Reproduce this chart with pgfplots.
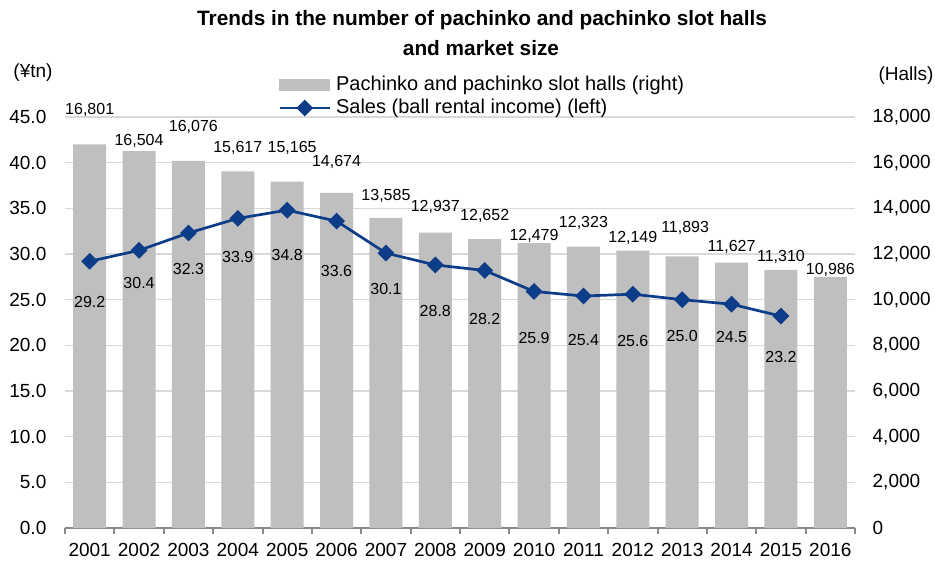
\documentclass[border=0pt]{standalone}
\usepackage{fontspec}
\setmainfont{Liberation Sans}
\usepackage{pgfplots}
\pgfplotsset{compat=1.18}
\usepackage{pgfplotstable}
\definecolor{barcol}{HTML}{BFBFBF}
\definecolor{linecol}{HTML}{0D3D88}
\definecolor{gridcol}{HTML}{D9D9D9}
\definecolor{axiscol}{HTML}{898989}
\pgfplotsset{
  linelegend/.style={legend image code/.code={\draw[mark repeat=2,mark phase=2,##1] plot coordinates {(0pt,0pt)(12.5pt,0pt)(25pt,0pt)};}},
  barlegend/.style={legend image code/.code={\fill[barcol] (0pt,-2.75pt) rectangle (25pt,2.75pt);}},
}

\pgfplotstableread{
x halls
1 16801
2 16504
3 16076
4 15617
5 15165
6 14674
7 13585
8 12937
9 12652
10 12479
11 12323
12 12149
13 11893
14 11627
15 11310
16 10986
}\halls

\pgfplotstableread{
x sales
1 29.2
2 30.4
3 32.3
4 33.9
5 34.8
6 33.6
7 30.1
8 28.8
9 28.2
10 25.9
11 25.4
12 25.6
13 25.0
14 24.5
15 23.2
}\sales

\pgfplotstableread{
x y lab
1 18306 16,801
2 16949 16,504
3.1 17562 16,076
4 16642 15,617
5.1 16642 15,165
6 16029 14,674
7 14540 13,585
8 14058 12,937
9 13664 12,652
10 12788 12,479
11 13358 12,323
12 12701 12,149
13.06 13139 11,893
14 12307 11,627
15 11869 11,310
16 11299 10,986
}\hallslab

\pgfplotstableread{
x y lab
1 24.74 29.2
2 26.82 30.4
3 28.36 32.3
4 29.67 33.9
5 29.89 34.8
6 28.14 33.6
7 26.17 30.1
8 23.76 28.8
9 22.88 28.2
10 20.80 25.9
11 20.58 25.4
12 20.47 25.6
13 21.02 25.0
14 20.91 24.5
15 18.72 23.2
}\saleslab

\begin{document}
\begin{tikzpicture}
\useasboundingbox (-32.5pt,-17.5pt) rectangle (435pt,264pt);
\begin{axis}[
  scale only axis, width=395pt, height=205.5pt,
  xmin=0.5, xmax=16.5, ymin=0, ymax=18000,
  axis x line*=bottom, axis y line*=right,
  y axis line style={draw=none},
  x axis line style={draw=axiscol, line width=1pt},
  xtick={0.5,1.5,...,16.5},
  x tick label as interval,
  xticklabels={2001,2002,2003,2004,2005,2006,2007,2008,2009,2010,2011,2012,2013,2014,2015,2016},
  major x tick style={draw=axiscol, line width=1pt},
  major tick length=3pt,
  tick align=outside,
  ytick={0,2000,...,18000},
  ymajorgrids, grid style={draw=gridcol, line width=0.7pt},
  major y tick style={draw=none},
  scaled y ticks=false,
  /pgf/number format/1000 sep={,},
  /pgf/number format/assume math mode=true,
  yticklabel style={xshift=2.3pt},
  xticklabel style={yshift=-1.3pt},
  tick label style={font=\fontsize{9.5}{11}\selectfont},
  clip=false,
]
\addplot[ybar, bar width=16.5pt, bar shift=0pt, fill=barcol, draw=none] table[x=x,y=halls]{\halls};
\addplot[draw=none, mark=none, nodes near coords, point meta=explicit symbolic,
  nodes near coords style={anchor=center, font=\fontsize{8}{9}\selectfont, inner sep=0pt, text=black}]
  table[x=x,y=y,meta=lab]{\hallslab};
\end{axis}
\begin{axis}[
  scale only axis, width=395pt, height=205.5pt,
  xmin=0.5, xmax=16.5, ymin=0, ymax=45,
  axis x line=none, axis y line*=left,
  y axis line style={draw=none},
  major y tick style={draw=none},
  ytick={0,5,...,45},
  /pgf/number format/fixed,
  /pgf/number format/fixed zerofill,
  /pgf/number format/precision=1,
  /pgf/number format/assume math mode=true,
  yticklabel style={xshift=-5.8pt},
  tick label style={font=\fontsize{9.5}{11}\selectfont},
  legend cell align=left,
  legend style={at={(0.2696,1.0499)}, anchor=west, draw=none, fill=none, inner sep=0pt,
    font=\fontsize{10}{12}\selectfont, row sep=0pt,
    nodes={inner sep=0.5pt, text height=8pt, text depth=2.5pt},
    /tikz/every odd column/.append style={column sep=2pt}},
  clip=false,
]
\addlegendimage{barlegend}
\addlegendentry{Pachinko and pachinko slot halls (right)}
\addplot[linecol, line width=1.35pt, mark=square*, mark size=2.3pt,
  mark options={rotate=45, fill=linecol, draw=linecol}, linelegend]
  table[x=x,y=sales]{\sales};
\addlegendentry{Sales (ball rental income) (left)}
\addplot[forget plot, draw=none, mark=none, nodes near coords, point meta=explicit symbolic,
  nodes near coords style={anchor=center, font=\fontsize{8}{9}\selectfont, inner sep=0pt, text=black}]
  table[x=x,y=y,meta=lab]{\saleslab};
\end{axis}
\node[font=\bfseries\fontsize{10.4}{12}\selectfont] at (208.5pt,254pt) {Trends in the number of pachinko and pachinko slot halls};
\node[font=\bfseries\fontsize{10.4}{12}\selectfont] at (208pt,240pt) {and market size};
\node[font=\fontsize{9.5}{11}\selectfont] at (-16pt,227.5pt) {(¥tn)};
\node[font=\fontsize{9.5}{11}\selectfont] at (420.5pt,226pt) {(Halls)};
\end{tikzpicture}
\end{document}
